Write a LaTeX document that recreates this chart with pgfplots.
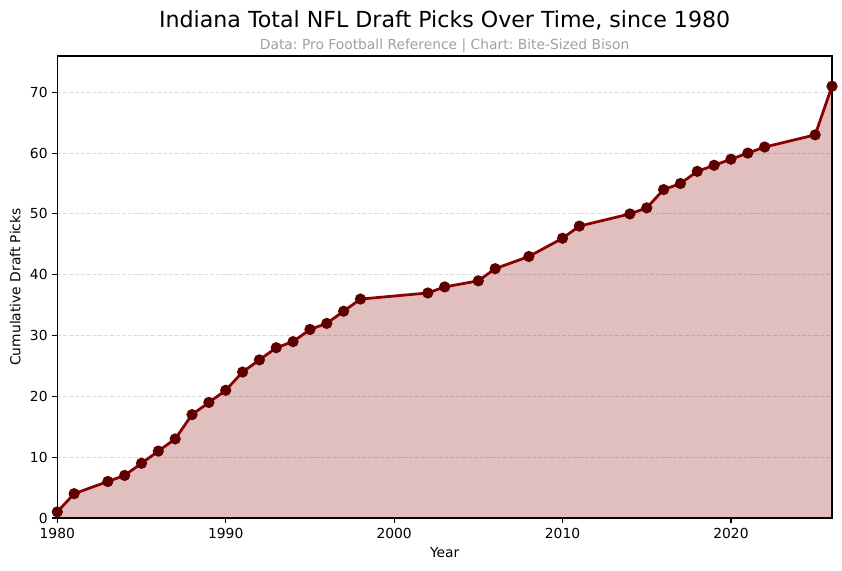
\documentclass[border=0pt]{standalone}
\usepackage{pgfplots}
\pgfplotsset{compat=1.18}
\usepackage{fontspec}
\setmainfont{DejaVu Sans}
\frenchspacing
\definecolor{dred}{RGB}{139,0,0}
\definecolor{mred}{RGB}{95,0,0}
\definecolor{gridc}{RGB}{220,220,220}
\definecolor{subg}{RGB}{160,160,160}
\begin{document}
\begin{tikzpicture}
\useasboundingbox (0,0) rectangle (8.42in,5.71in);
\begin{axis}[
  at={(0.573in,0.53in)}, anchor=south west,
  scale only axis, width=7.747in, height=4.62in,
  xmin=1980, xmax=2026, ymin=0, ymax=75.97,
  xtick={1980,1990,2000,2010,2020},
  ytick={0,10,20,30,40,50,60,70},
  xticklabel style={/pgf/number format/1000 sep={}},
  /pgf/number format/assume math mode=true,
  tick label style={font=\fontsize{10}{12}\selectfont},
  label style={font=\fontsize{10}{12}\selectfont},
  tick align=outside, major tick length=3.5pt,
  xtick pos=bottom, ytick pos=left,
  axis line style={line width=0.8pt},
  every tick/.style={line width=0.8pt, black},
  ymajorgrids,
  major grid style={gridc, line width=0.8pt, dash pattern=on 2.96pt off 1.28pt},
  xlabel={Year}, ylabel={Cumulative Draft Picks},
  ylabel style={yshift=0pt},
  clip mode=individual,
]
\addplot[draw=none, fill=dred, fill opacity=0.25] coordinates {
(1980,1) (1981,4) (1983,6) (1984,7) (1985,9) (1986,11) (1987,13) (1988,17) (1989,19) (1990,21)
(1991,24) (1992,26) (1993,28) (1994,29) (1995,31) (1996,32) (1997,34) (1998,36) (2002,37) (2003,38)
(2005,39) (2006,41) (2008,43) (2010,46) (2011,48) (2014,50) (2015,51) (2016,54) (2017,55) (2018,57)
(2019,58) (2020,59) (2021,60) (2022,61) (2025,63) (2026,71)
} \closedcycle;
\addplot[dred, line width=2pt, mark=*, mark size=3pt, mark options={fill=mred, draw=mred}] coordinates {
(1980,1) (1981,4) (1983,6) (1984,7) (1985,9) (1986,11) (1987,13) (1988,17) (1989,19) (1990,21)
(1991,24) (1992,26) (1993,28) (1994,29) (1995,31) (1996,32) (1997,34) (1998,36) (2002,37) (2003,38)
(2005,39) (2006,41) (2008,43) (2010,46) (2011,48) (2014,50) (2015,51) (2016,54) (2017,55) (2018,57)
(2019,58) (2020,59) (2021,60) (2022,61) (2025,63) (2026,71)
};
\node[font=\fontsize{16}{19}\selectfont, anchor=center] at (axis description cs:0.5,1.078) {Indiana Total NFL Draft Picks Over Time, since 1980};
\node[font=\fontsize{10}{12}\selectfont, text=subg, anchor=center] at (axis description cs:0.5,1.023) {Data: Pro Football Reference | Chart: Bite-Sized Bison};
\end{axis}
\end{tikzpicture}
\end{document}
